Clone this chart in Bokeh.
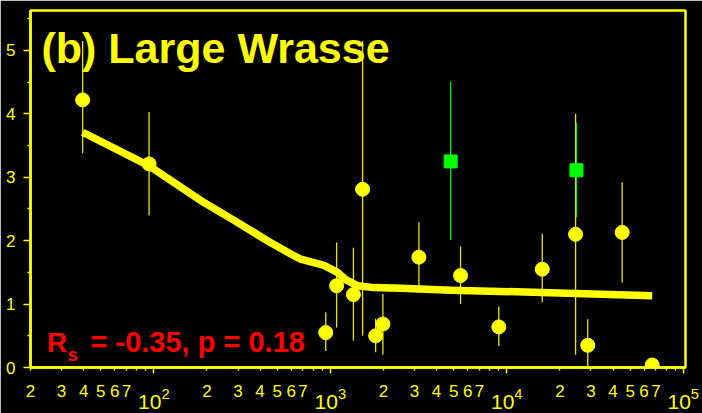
from bokeh.plotting import figure
from bokeh.models import FixedTicker, Label, LogAxis, LogTickFormatter, CustomJSTickFormatter
from bokeh.embed import file_html
from bokeh.resources import INLINE

# ---- data ----
pt_x = [39.5, 94, 942, 1086, 1352, 1524, 1807, 1986, 3177, 5471, 9015, 15890, 24540, 28770, 45080, 66690]
pt_y = [4.22, 3.21, 0.55, 1.29, 1.15, 2.81, 0.50, 0.685, 1.74, 1.45, 0.64, 1.55, 2.10, 0.35, 2.13, 0.04]
pt_lo = [3.38, 2.40, 0.26, 0.63, 0.42, 0.50, 0.24, 0.20, 1.29, 1.00, 0.34, 1.03, 0.20, 0.01, 1.34, 0.04]
pt_hi = [5.15, 4.03, 0.87, 1.97, 1.89, 5.15, 0.77, 1.16, 2.29, 1.91, 0.96, 2.11, 4.00, 0.76, 2.92, 0.04]

sq_x = [4808, 24830]
sq_y = [3.25, 3.11]
sq_lo = [2.01, 2.37]
sq_hi = [4.51, 3.86]

fit_x = [39.5, 94, 185, 285, 440, 597, 679, 921, 1097, 1222, 1422, 1766, 2506, 4810, 17700, 66700]
fit_y = [3.71, 3.18, 2.63, 2.32, 2.00, 1.79, 1.71, 1.61, 1.50, 1.385, 1.29, 1.26, 1.25, 1.22, 1.18, 1.13]

y_major = [0, 1, 2, 3, 4, 5]
y_minor = [0.5, 1.5, 2.5, 3.5, 4.5, 5.5]
x_decades = [100, 1000, 10000, 100000]
x_digit_mult = [2, 3, 4, 5, 6, 7, 8, 9]
x_label_mult = [2, 3, 4, 5, 6, 7]
x_bases = [10, 100, 1000, 10000]

title_text = "(b) Large Wrasse"
stat_R = "R"
stat_sub = "s"
stat_rest = "= -0.35, p = 0.18"

YEL = "#ffff00"
FONT = "Liberation Sans"

p = figure(width=702, height=413, x_axis_type="log",
           x_range=(20, 103000), y_range=(0, 5.63),
           output_backend="svg", toolbar_location=None,
           background_fill_color="black", border_fill_color="black",
           min_border_left=30, min_border_right=17, min_border_top=10, min_border_bottom=46)
p.xgrid.visible = False
p.ygrid.visible = False
p.outline_line_color = YEL
p.outline_line_width = 2.5

# y axis
ya = p.yaxis[0]
ya.ticker = FixedTicker(ticks=y_major, minor_ticks=y_minor)
ya.axis_line_color = YEL
ya.axis_line_width = 2.5
ya.major_tick_line_color = YEL
ya.minor_tick_line_color = YEL
ya.major_tick_line_width = 1.5
ya.minor_tick_line_width = 1.5
ya.major_tick_out = 7
ya.major_tick_in = 0
ya.minor_tick_out = 3
ya.minor_tick_in = 0
ya.major_label_text_color = YEL
ya.major_label_text_font = FONT
ya.major_label_text_font_size = "17px"
ya.major_label_standoff = 8

# x axis: decades (10^n) with minor ticks at 2..9
minor_x = [m * b for b in x_bases for m in x_digit_mult]
xa = p.xaxis[0]
xa.ticker = FixedTicker(ticks=x_decades, minor_ticks=minor_x)
xa.formatter = LogTickFormatter()
xa.axis_line_color = YEL
xa.axis_line_width = 2.5
xa.major_tick_line_color = YEL
xa.minor_tick_line_color = YEL
xa.major_tick_line_width = 1.5
xa.minor_tick_line_width = 1.5
xa.major_tick_out = 6
xa.major_tick_in = 0
xa.minor_tick_out = 3
xa.minor_tick_in = 0
xa.major_label_text_color = YEL
xa.major_label_text_font = FONT
xa.major_label_text_font_size = "21px"
xa.major_label_standoff = 14

# second axis carrying the digit labels 2..7 between decades
digit_ticks = [m * b for b in x_bases for m in x_label_mult]
xa2 = LogAxis(ticker=FixedTicker(ticks=digit_ticks, minor_ticks=[]),
              formatter=CustomJSTickFormatter(code="return String(Math.round(tick / Math.pow(10, Math.floor(Math.log10(tick) + 1e-9))));"),
              axis_line_color=None, major_tick_line_color=None, minor_tick_line_color=None,
              major_tick_out=0, major_tick_in=0, minor_tick_out=0, minor_tick_in=0,
              major_label_text_color=YEL, major_label_text_font=FONT,
              major_label_text_font_size="17px", major_label_standoff=-27)
p.add_layout(xa2, "below")

# error bars
p.segment(x0=pt_x, y0=pt_lo, x1=pt_x, y1=pt_hi, line_color="#e6e600", line_width=1.3)
p.segment(x0=sq_x, y0=sq_lo, x1=sq_x, y1=sq_hi, line_color="#00ee00", line_width=1.3)

# fitted curve
p.line(fit_x, fit_y, line_color=YEL, line_width=7.5, line_join="round", line_cap="butt")

# points
p.scatter(pt_x, pt_y, marker="circle", size=14, fill_color=YEL, line_color=YEL)
p.scatter(sq_x, sq_y, marker="square", size=13, fill_color="#00ff00", line_color="#00ff00")

# title and statistics
p.add_layout(Label(x=11, y=319.5, x_units="screen", y_units="screen", text=title_text,
                   text_color=YEL, text_font=FONT, text_font_style="bold",
                   text_font_size="43px", text_baseline="middle"))
p.add_layout(Label(x=16.5, y=25.3, x_units="screen", y_units="screen", text=stat_R,
                   text_color="#ff0000", text_font=FONT, text_font_style="bold",
                   text_font_size="28px", text_baseline="middle"))
p.add_layout(Label(x=37, y=13.5, x_units="screen", y_units="screen", text=stat_sub,
                   text_color="#ff0000", text_font=FONT, text_font_style="bold",
                   text_font_size="19px", text_baseline="middle"))
p.add_layout(Label(x=60, y=25.3, x_units="screen", y_units="screen", text=stat_rest,
                   text_color="#ff0000", text_font=FONT, text_font_style="bold",
                   text_font_size="29px", text_baseline="middle"))

open("out.html", "w").write(file_html(p, INLINE))
